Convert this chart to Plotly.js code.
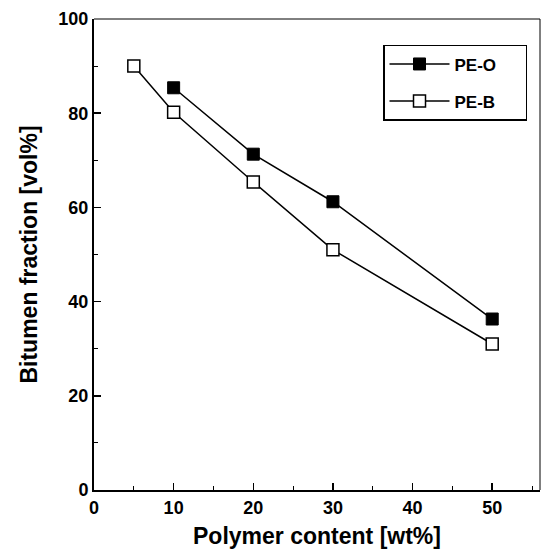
<!DOCTYPE html>
<html><head><meta charset="utf-8">
<script src="https://cdn.plot.ly/plotly-3.0.1.min.js"></script>
<style>html,body{margin:0;padding:0;background:#fff}#c{width:541px;height:549px}</style>
</head><body><div id="c"></div>
<script>
const seriesNames = ["PE-O", "PE-B"];
const peO_x = [10, 20, 30, 50];
const peO_y = [85.4, 71.3, 61.2, 36.3];
const peB_x = [5, 10, 20, 30, 50];
const peB_y = [90.0, 80.2, 65.4, 51.0, 31.0];
const xTicks = [0, 10, 20, 30, 40, 50];
const yTicks = [0, 20, 40, 60, 80, 100];

const font = "Liberation Sans, Arial, sans-serif";
const pad = "\u00a0\u00a0\u00a0\u00a0\u00a0";
const traces = [
  {x: peO_x, y: peO_y, name: seriesNames[0] + pad, mode: "lines+markers", legendgroup: "a",
   line: {color: "#000", width: 1.5},
   marker: {symbol: "square", size: 12, color: "#000", line: {color: "#000", width: 1}}},
  {x: peB_x, y: peB_y, name: seriesNames[1] + pad, mode: "lines+markers", legendgroup: "b",
   line: {color: "#000", width: 1.5},
   marker: {symbol: "square", size: 12, color: "#fff", line: {color: "#000", width: 1.5}}}
];
const layout = {
  width: 541, height: 549,
  margin: {l: 94, r: 1, t: 19, b: 59},
  paper_bgcolor: "#fff", plot_bgcolor: "#fff",
  font: {family: font, color: "#000"},
  showlegend: true,
  legend: {x: 0.648, y: 0.945, xanchor: "left", yanchor: "top",
    bordercolor: "#000", borderwidth: 1.5, bgcolor: "#fff",
    font: {family: font, size: 17, weight: "bold"},
    traceorder: "grouped", tracegroupgap: 12, itemwidth: 60},
  shapes: [
    {type: "line", xref: "paper", yref: "paper", x0: 0, x1: 1, y0: 1, y1: 1, line: {color: "#000", width: 1}},
    {type: "line", xref: "paper", yref: "paper", x0: 1, x1: 1, y0: 0, y1: 1, line: {color: "#000", width: 1}}
  ],
  xaxis: {range: [0, 56], tickvals: xTicks, ticktext: xTicks.map(String),
    ticks: "inside", ticklen: 7, tickwidth: 1.5, tickcolor: "#000",
    minor: {dtick: 5, tick0: 0, ticks: "inside", ticklen: 4, tickwidth: 1, tickcolor: "#000"},
    showline: true, linewidth: 2, linecolor: "#000", mirror: false,
    showgrid: false, zeroline: false,
    tickfont: {family: font, size: 18, weight: "bold"},
    title: {text: "Polymer content [wt%]", font: {family: font, size: 23, weight: "bold"}, standoff: 11}},
  yaxis: {range: [0, 100], tickvals: yTicks, ticktext: yTicks.map(String),
    ticks: "inside", ticklen: 7, tickwidth: 1.5, tickcolor: "#000",
    minor: {dtick: 10, tick0: 0, ticks: "inside", ticklen: 4, tickwidth: 1, tickcolor: "#000"},
    showline: true, linewidth: 2, linecolor: "#000", mirror: false,
    showgrid: false, zeroline: false,
    tickfont: {family: font, size: 18, weight: "bold"},
    title: {text: "Bitumen fraction [vol%]", font: {family: font, size: 23, weight: "bold"}, standoff: 14}}
};
Plotly.newPlot("c", traces, layout, {displayModeBar: false, staticPlot: true});
</script></body></html>
